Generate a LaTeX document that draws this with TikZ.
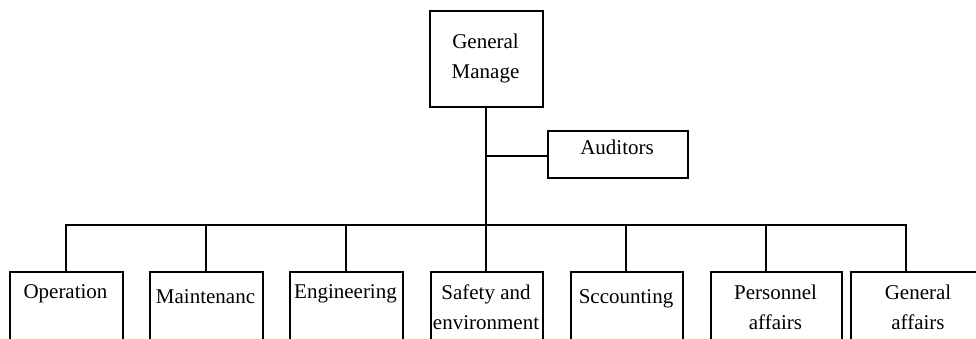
\documentclass[tikz,border=0pt]{standalone}
\usepackage{fontspec}
\setmainfont{Liberation Serif}
\begin{document}
\begin{tikzpicture}[x=1pt,y=-1pt,
  line width=2pt,
  box/.style={draw, rectangle, inner sep=0pt, anchor=north west},
  lbl/.style={inner sep=0pt, anchor=north, align=center,
    font=\fontsize{21}{30}\selectfont}]
\useasboundingbox (0,0) rectangle (976,338);
\clip (0,0) rectangle (976,338);

% top level and staff box
\node[box, minimum width=113pt, minimum height=96pt] (gm) at (429,10) {};
\node[lbl] (gmt) at (485.5,33) {General\\Manage};
\node[box, minimum width=140pt, minimum height=47pt] (aud) at (547,130) {};
\node[lbl] (audt) at (617,139) {Auditors};

% departments (lower edges run past the page)
\node[box, minimum width=113pt, minimum height=90pt] (b1) at (9,271) {};
\node[box, minimum width=113pt, minimum height=90pt] (b2) at (149,271) {};
\node[box, minimum width=113pt, minimum height=90pt] (b3) at (289,271) {};
\node[box, minimum width=112pt, minimum height=90pt] (b4) at (430,271) {};
\node[box, minimum width=112pt, minimum height=90pt] (b5) at (570,271) {};
\node[box, minimum width=131pt, minimum height=90pt] (b6) at (710,271) {};
\node[box, minimum width=140pt, minimum height=90pt] (b7) at (850,271) {};

\node[lbl] (t1) at (65.5,284) {Operation};
\node[lbl] (t2) at (205.5,289) {Maintenanc};
\node[lbl] (t3) at (345.5,284) {Engineering};
\node[lbl] (t4) at (486,284) {Safety and\\environment};
\node[lbl] (t5) at (626,289) {Sccounting};
\node[lbl] (t6) at (775.5,284) {Personnel\\affairs};
\node[lbl] (t7) at (918,284) {General\\affairs};

% branching points
\coordinate (ja) at (486,156);
\coordinate (d1) at (66,225);
\coordinate (d2) at (206,225);
\coordinate (d3) at (346,225);
\coordinate (d4) at (486,225);
\coordinate (d5) at (626,225);
\coordinate (d6) at (766,225);
\coordinate (d7) at (906,225);

% connectors
\draw (gm.south -| d4) -- (d4 |- b4.north);
\draw (ja) -- (ja -| aud.west);
\draw[line cap=rect] (d1) -- (d7);
\foreach \i in {1,2,3,5,6,7}
  \draw (d\i) -- (d\i |- b\i.north);
\end{tikzpicture}
\end{document}
